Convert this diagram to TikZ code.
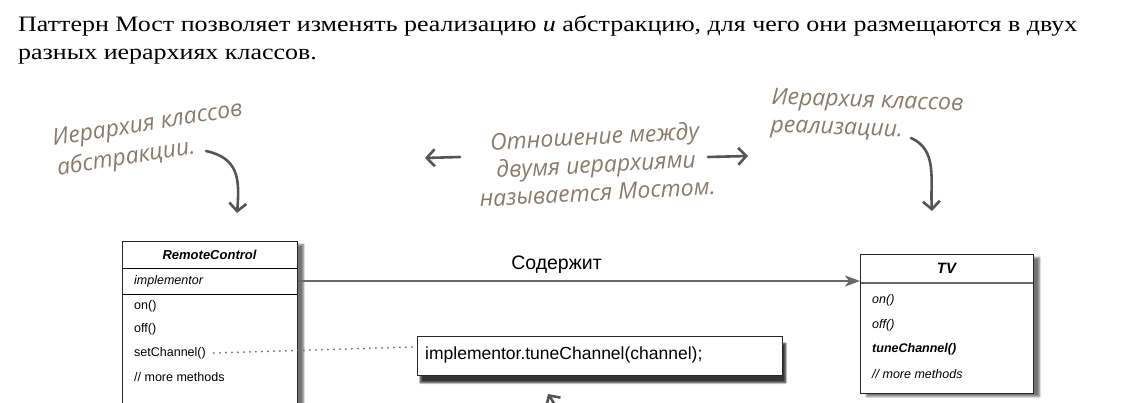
\documentclass[tikz,border=0pt]{standalone}
\usepackage{fontspec}
\setmainfont{Liberation Serif}
\newfontfamily\introfont[FakeStretch=1.18]{Liberation Serif}
\newfontfamily\umlfont{Liberation Sans}
\newfontfamily\handfont{Open Sans}
\usetikzlibrary{arrows.meta}
\usetikzlibrary{shadows,shadows.blur}
\usetikzlibrary{positioning}

\definecolor{handcol}{RGB}{138,122,108}
\definecolor{arrowgray}{RGB}{85,85,85}
\definecolor{linegray}{RGB}{105,105,105}

\tikzset{
  umlbox/.style={draw=black!85, fill=white, line width=0.9pt, inner sep=0pt,
    blur shadow={shadow xshift=6pt, shadow yshift=-3pt, shadow blur steps=8, shadow opacity=55}},
  umltext/.style={anchor=west, inner sep=0pt, font=\umlfont\fontsize{12.5}{14}\selectfont},
  umltitle/.style={inner sep=0pt, font=\umlfont\bfseries\itshape\fontsize{13}{15}\selectfont},
  introline/.style={anchor=base west, inner sep=0pt, font=\introfont\fontsize{22}{28}\selectfont},
  handnote/.style={inner sep=0pt, text=handcol, align=left,
    font=\handfont\itshape\fontsize{23}{28}\selectfont},
  handarrow/.style={draw=arrowgray, line width=2.6pt, line cap=round,
    -{Straight Barb[length=8pt,width=17pt]}},
  contains/.style={draw=linegray, line width=2pt,
    -{Stealth[length=15pt,width=11pt,inset=4pt]}},
  dotline/.style={draw=linegray, line width=2pt, line cap=round,
    dash pattern=on 0pt off 6pt}
}

\begin{document}
\begin{tikzpicture}[x=1pt,y=-1pt]
	\useasboundingbox (0,0) rectangle (1134,403);
	\clip (0,0) rectangle (1134,403);
	% intro text
	\node[introline] (introa) at (18,32)
	  {Паттерн Мост позволяет изменять реализацию \textit{и} абстракцию, для чего они размещаются в двух};
	\node[introline] (introb) at (18,60) {разных иерархиях классов.};
	% handwritten notes
	\node[handnote, rotate=9, font=\handfont\itshape\fontsize{23}{30}\selectfont] (absnote) at (150,140) {Иерархия классов\\абстракции.};
	\node[handnote, rotate=3, align=center] (bridgenote) at (596,164)
	  {Отношение между\\двумя иерархиями\\называется Мостом.};
	\node[handnote, rotate=-2] (implnote) at (867,116) {Иерархия классов\\реализации.};
	\coordinate (abstail) at (206,151);
	\coordinate (abshead) at (237,213);
	\coordinate (lefttail) at (460,157);
	\coordinate (lefthead) at (425,158);
	\coordinate (righttail) at (708,157);
	\coordinate (righthead) at (748,156);
	\coordinate (impltail) at (911,138);
	\coordinate (implhead) at (932,211);
	\coordinate (bottail) at (570,428);
	\coordinate (bothead) at (548,394);
	\draw[handarrow] (abstail) .. controls (238,158) and (240,178) .. (abshead);
	\draw[handarrow] (lefttail) -- (lefthead);
	\draw[handarrow] (righttail) -- (righthead);
	\draw[handarrow] (impltail) .. controls (938,150) and (930,180) .. (implhead);
	\draw[handarrow] (bottail) -- (bothead);
	% abstraction class
	\node[umlbox, anchor=north west, minimum width=175pt, minimum height=185pt] (remote) at (122,241) {};
	\draw[line width=0.9pt] (122,268) -- (297,268);
	\draw[line width=0.9pt] (122,294) -- (297,294);
	\node[umltitle] (rctitle) at (209.5,254.5) {RemoteControl};
	\node[umltext, font=\umlfont\itshape\fontsize{12.5}{14}\selectfont] (rcattr) at (134,281) {implementor};
	\node[umltext] (rcon) at (134,306) {on()};
	\node[umltext] (rcoff) at (134,329) {off()};
	\node[umltext] (rcset) at (134,353) {setChannel()};
	\node[umltext] (rcmore) at (134,377) {// more methods};
	% implementation class
	\node[umlbox, anchor=north west, minimum width=173pt, minimum height=139pt] (tv) at (860,254) {};
	\draw[line width=1.8pt, draw=linegray] (860.5,283) -- (1032.5,283);
	\node[umltitle, font=\umlfont\bfseries\itshape\fontsize{15}{17}\selectfont] (tvtitle) at (946.5,268) {TV};
	\node[umltext, font=\umlfont\itshape\fontsize{12.5}{14}\selectfont] (tvon) at (872,300) {on()};
	\node[umltext, font=\umlfont\itshape\fontsize{12.5}{14}\selectfont] (tvoff) at (872,325) {off()};
	\node[umltext, font=\umlfont\bfseries\itshape\fontsize{12.5}{14}\selectfont] (tvtune) at (872,349) {tuneChannel()};
	\node[umltext, font=\umlfont\itshape\fontsize{12.5}{14}\selectfont] (tvmore) at (872,374) {// more methods};
	% code note
	\node[umlbox, anchor=north west, minimum width=365pt, minimum height=39pt,
	  blur shadow={shadow xshift=3pt, shadow yshift=-7pt, shadow blur steps=8, shadow opacity=55}] (code) at (417,336) {};
	\node[umltext, font=\umlfont\fontsize{17.5}{19}\selectfont] (codetext) at (425,355) {implementor.tuneChannel(channel);};
	% connectors
	\draw[contains] (rcattr -| remote.east) -- (rcattr -| tv.west)
	  node[pos=0.46, above=3pt, font=\umlfont\fontsize{19.5}{21}\selectfont] (containslabel) {Содержит};
	\draw[dotline] ([xshift=8pt]rcset.east) -- ([xshift=-5pt,yshift=9pt]code.west);
\end{tikzpicture}
\end{document}
